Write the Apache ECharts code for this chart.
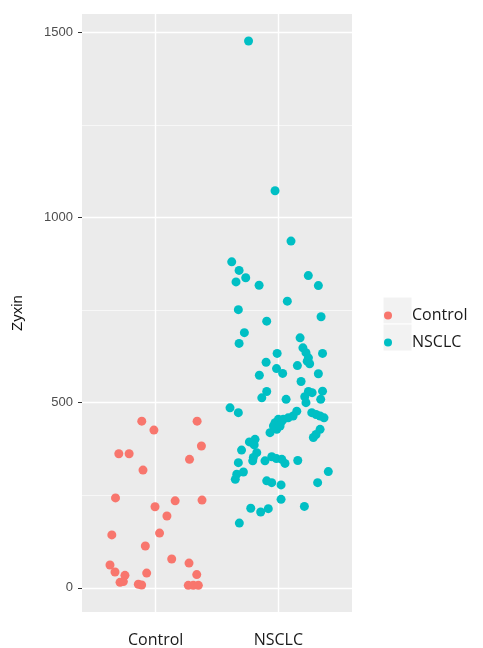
<!DOCTYPE html>
<html>
<head>
<meta charset="utf-8">
<script src="https://cdn.jsdelivr.net/npm/echarts@6/dist/echarts.min.js"></script>
<style>
html,body{margin:0;padding:0;background:#fff;}
#chart{width:483px;height:648px;}
</style>
</head>
<body>
<div id="chart"></div>
<script>
// ---- data ----
const categories = ['Control', 'NSCLC'];
const yTicks = [0, 500, 1000, 1500];
const yMinorTicks = [250, 750, 1250];
const xTicks = [1, 2];

// jittered x positions (category index + jitter) and values
const controlX = [0.887, 0.986, 1.338, 1.373, 0.700, 0.784, 1.276, 0.897, 0.673, 0.995,
                  1.159, 1.378, 1.092, 0.643, 1.032, 0.916, 1.131, 1.272, 0.628, 0.669,
                  0.750, 0.927, 1.335, 0.710, 0.737, 0.859, 0.886, 1.266, 1.307, 1.348];
const controlY = [450, 426, 450, 383, 362, 362, 347, 318, 243, 219,
                  235, 237, 194, 143, 148, 113, 78, 67, 62, 43,
                  34, 40, 36, 15, 17, 10, 8, 7, 7, 7];

const nsclcX = [1.757, 1.973, 2.103, 1.620, 1.680, 1.734, 1.655, 1.843, 2.244, 2.326,
                2.073, 1.674, 2.348, 1.905, 1.723, 1.680, 2.177, 2.200, 2.225, 2.245,
                2.360, 1.990, 1.900, 2.155, 2.235, 2.255, 1.985, 2.035, 1.845, 2.326,
                2.185, 1.905, 1.865, 2.063, 2.245, 2.275, 2.360, 2.345, 2.215, 2.225,
                1.606, 1.674, 2.150, 2.120, 2.080, 2.040, 2.000, 1.973, 1.960, 1.987,
                1.932, 2.014, 2.028, 2.272, 2.307, 2.340, 2.372, 2.340, 2.307, 2.285,
                1.810, 1.764, 1.803, 1.700, 1.824, 1.796, 1.791, 1.891, 1.946, 2.028,
                2.054, 2.158, 1.674, 1.715, 1.661, 1.649, 2.407, 2.320, 1.905, 1.946,
                2.022, 2.022, 2.212, 1.775, 1.856, 1.918, 1.682, 1.984];
const nsclcY = [1476, 1072, 936, 880, 857, 837, 826, 817, 843, 816,
                774, 751, 732, 720, 689, 660, 675, 648, 635, 621,
                633, 633, 609, 600, 612, 605, 592, 579, 574, 578,
                557, 530, 513, 509, 530, 527, 531, 509, 516, 500,
                486, 473, 477, 464, 459, 455, 455, 446, 437, 428,
                419, 437, 450, 473, 468, 464, 459, 428, 414, 406,
                401, 394, 386, 372, 365, 352, 343, 343, 354, 347,
                336, 344, 338, 313, 307, 293, 314, 284, 289, 284,
                278, 239, 220, 215, 205, 214, 175, 349];

const pts = (xs, ys) => xs.map((x, i) => [x, ys[i]]);

const chart = echarts.init(document.getElementById('chart'), null, {renderer: 'canvas'});

const gridLines = [];
yTicks.forEach(v => gridLines.push({yAxis: v, lineStyle: {color: '#ffffff', width: 1.4, type: 'solid'}}));
yMinorTicks.forEach(v => gridLines.push({yAxis: v, lineStyle: {color: '#ffffff', width: 0.6, type: 'solid'}}));
xTicks.forEach(v => gridLines.push({xAxis: v, lineStyle: {color: '#ffffff', width: 1.4, type: 'solid'}}));

chart.setOption({
  animation: false,
  backgroundColor: '#ffffff',
  grid: {left: 82, right: 131, top: 14, bottom: 36, show: true, backgroundColor: '#EBEBEB', borderWidth: 0},
  xAxis: {
    type: 'value', min: 0.4, max: 2.6,
    axisLine: {show: false},
    splitLine: {show: false},
    axisTick: {show: true, customValues: xTicks, length: 4, lineStyle: {color: '#333333', width: 1}},
    axisLabel: {
      customValues: xTicks, margin: 20,
      formatter: v => categories[Math.round(v) - 1],
      fontFamily: 'Open Sans', fontSize: 16, color: '#1a1a1a'
    }
  },
  yAxis: {
    type: 'value', min: -65, max: 1549,
    name: 'Zyxin', nameLocation: 'middle', nameGap: 57, nameRotate: 90,
    nameTextStyle: {fontFamily: 'Liberation Sans', fontSize: 15, color: '#111111'},
    axisLine: {show: false},
    splitLine: {show: false},
    axisTick: {show: true, customValues: yTicks, length: 4, lineStyle: {color: '#333333', width: 1}},
    axisLabel: {customValues: yTicks, margin: 9, formatter: v => String(v),
                fontFamily: 'Liberation Sans', fontSize: 13, color: '#4D4D4D'}
  },
  legend: {
    orient: 'vertical', left: 379, top: 297,
    data: categories,
    icon: 'circle', itemWidth: 38, itemHeight: 8, itemGap: 0,
    textStyle: {fontFamily: 'Open Sans', fontSize: 16, color: '#1a1a1a', lineHeight: 27}
  },
  graphic: [
    {type: 'rect', z: -1, shape: {x: 383, y: 297, width: 29, height: 27}, style: {fill: '#F2F2F2', stroke: '#ffffff', lineWidth: 1}},
    {type: 'rect', z: -1, shape: {x: 383, y: 324, width: 29, height: 27}, style: {fill: '#F2F2F2', stroke: '#ffffff', lineWidth: 1}}
  ],
  series: [
    {
      name: 'grid', type: 'scatter', data: [], z: 1, silent: true,
      markLine: {silent: true, symbol: ['none', 'none'], label: {show: false}, animation: false, data: gridLines}
    },
    {
      name: 'Control', type: 'scatter', z: 5, symbolSize: 9,
      itemStyle: {color: '#F8766D', opacity: 1}, data: pts(controlX, controlY)
    },
    {
      name: 'NSCLC', type: 'scatter', z: 5, symbolSize: 9,
      itemStyle: {color: '#00BFC4', opacity: 1}, data: pts(nsclcX, nsclcY)
    }
  ]
});
</script>
</body>
</html>
